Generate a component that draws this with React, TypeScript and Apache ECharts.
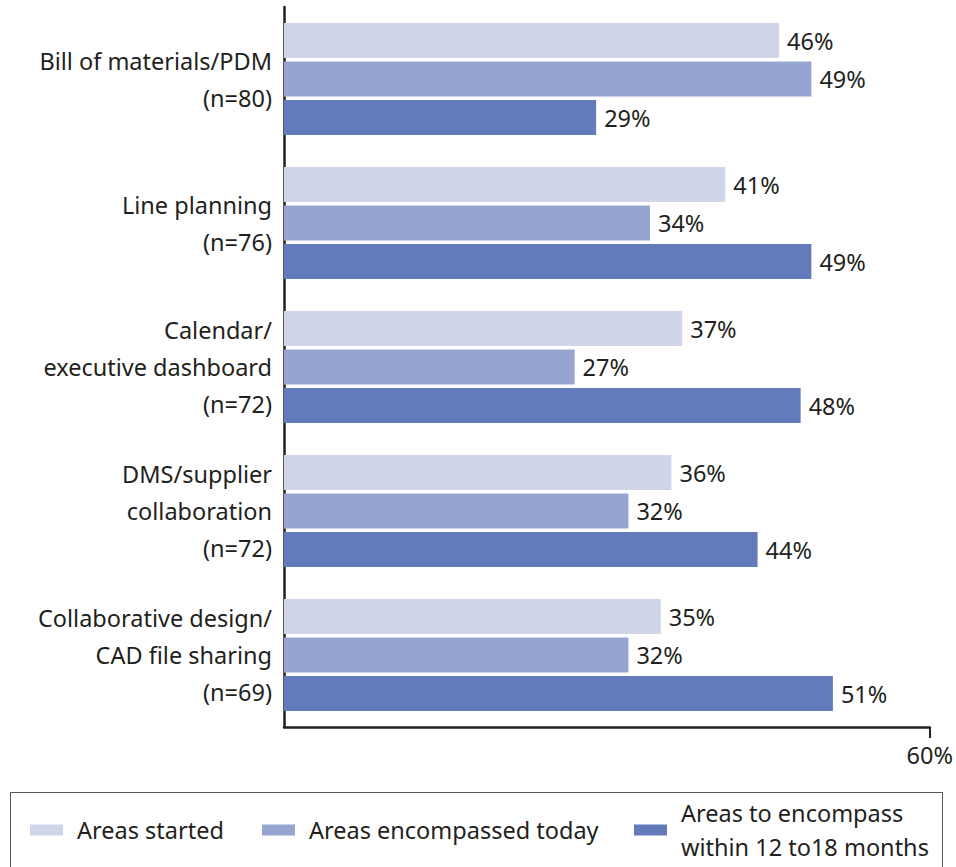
import React, { useEffect, useRef } from "react";
import * as echarts from "echarts";

const categories = [
  "Bill of materials/PDM\n(n=80)",
  "Line planning\n(n=76)",
  "Calendar/\nexecutive dashboard\n(n=72)",
  "DMS/supplier\ncollaboration\n(n=72)",
  "Collaborative design/\nCAD file sharing\n(n=69)",
];
const seriesNames = [
  "Areas started",
  "Areas encompassed today",
  "Areas to encompass\nwithin 12 to18 months",
];
const areasStarted = [46, 41, 37, 36, 35];
const areasToday = [49, 34, 27, 32, 32];
const areasPlanned = [29, 49, 48, 44, 51];
const axisMax = 60;
const axisTickValues = [60];

const colors = ["#d0d5e9", "#96a5d0", "#637bbb"];
const ink = "#231f20";
const font = "Noto Sans";
const fontSize = 23.5;

export default function App() {
  const ref = useRef<HTMLDivElement>(null);

  useEffect(() => {
    if (!ref.current) return;
    const chart = echarts.init(ref.current, null, { renderer: "svg" });

    const values = [areasStarted, areasToday, areasPlanned];
    const series = values.map((data, i) => ({
      name: seriesNames[i],
      type: "bar",
      data,
      barWidth: 35,
      barGap: "10%",
      itemStyle: { color: colors[i] },
      label: {
        show: true,
        position: "right",
        distance: 8,
        formatter: "{c}%",
        color: ink,
        fontFamily: font,
        fontSize,
      },
    }));

    const legendLeft = [30, 262, 634];
    const legendTop = [815, 815, 796];
    const legends = seriesNames.map((name, i) => ({
      data: [name],
      left: legendLeft[i],
      top: legendTop[i],
      padding: 0,
      itemWidth: 33,
      itemHeight: 11,
      icon: "rect",
      textStyle: {
        color: ink,
        fontFamily: font,
        fontSize,
        lineHeight: i === 2 ? 34 : 30,
        padding: [0, 0, 0, 9],
      },
    }));

    chart.setOption({
      animation: false,
      textStyle: { fontFamily: font },
      grid: { left: 284, right: 23, top: 7, bottom: 140, containLabel: false },
      legend: legends,
      graphic: [
        {
          type: "rect",
          shape: { x: 10.5, y: 792.5, width: 932, height: 90 },
          style: { fill: "none", stroke: "#555555", lineWidth: 1 },
          silent: true,
        },
      ],
      xAxis: {
        type: "value",
        min: 0,
        max: axisMax,
        interval: axisMax,
        splitLine: { show: false },
        axisLine: { show: true, lineStyle: { color: ink, width: 2.5 } },
        axisTick: {
          show: true,
          length: 11,
          customValues: axisTickValues,
          lineStyle: { color: ink, width: 2 },
        },
        axisLabel: {
          customValues: axisTickValues,
          formatter: (v: number) => `${v}%`,
          color: ink,
          fontFamily: font,
          fontSize,
          margin: 16,
        },
      },
      yAxis: {
        type: "category",
        data: categories,
        inverse: true,
        axisLine: { show: true, lineStyle: { color: ink, width: 2.5 } },
        axisTick: { show: false },
        axisLabel: {
          color: ink,
          fontFamily: font,
          fontSize,
          lineHeight: 37,
          margin: 12,
          align: "right",
        },
      },
      series,
    });

    return () => chart.dispose();
  }, []);

  return (
    <div
      ref={ref}
      style={{ position: "absolute", left: 0, top: 0, width: 956, height: 867 }}
    />
  );
}
